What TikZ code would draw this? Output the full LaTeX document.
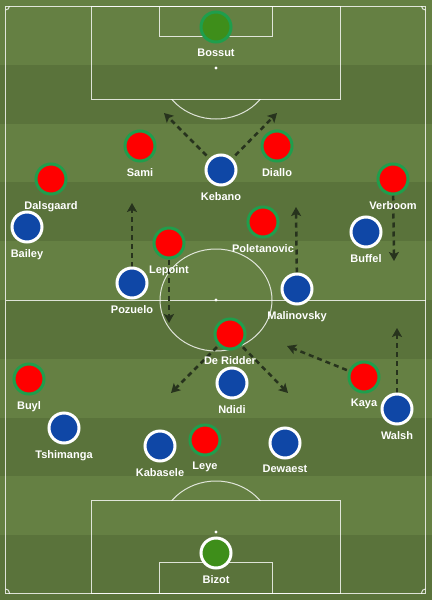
\documentclass[tikz,border=0pt]{standalone}
\usepackage{fontspec}
\setmainfont{Liberation Sans}
\usetikzlibrary{arrows.meta}
\definecolor{grasslight}{HTML}{658043}
\definecolor{grassdark}{HTML}{5A733B}
\definecolor{redkit}{HTML}{FF0000}
\definecolor{bluekit}{HTML}{0F47A6}
\definecolor{keeperkit}{HTML}{3E8E1A}
\definecolor{ring}{HTML}{1F9E4C}
\definecolor{runline}{HTML}{27331D}
\pgfdeclarelayer{pitch}
\pgfdeclarelayer{runs}
\pgfsetlayers{pitch,runs,main}

\begin{document}
\begin{tikzpicture}
[x=1pt,y=-1pt,%
  pitchline/.style={draw=white,draw opacity=0.8,line width=1pt},%
  player/.style={shape=circle,minimum size=30pt,inner sep=0pt,line width=3pt},%
  redp/.style={player,fill=redkit,draw=ring},%
  bluep/.style={player,fill=bluekit,draw=white},%
  lbl/.style={font=\fontsize{11}{13}\selectfont\bfseries,text=white,inner sep=0pt,yshift=-5.5pt},%
  run/.style={draw=runline,line width=2.5pt,dash pattern=on 5pt off 4pt,%
    -{Stealth[length=9pt,width=10pt,inset=2pt]}}]
\useasboundingbox (0,0) rectangle (432,600);
\begin{pgfonlayer}{pitch}
\fill[grassdark] (0,0) rectangle (432,600);
\fill[grasslight] (0,0) rectangle (432,6);
\foreach \i in {0,2,...,8}
  \fill[grasslight] (0,{6+58.8*\i}) rectangle (432,{64.8+58.8*\i});
\draw[pitchline] (5.5,6) rectangle (425.5,593);
\draw[pitchline] (5.5,300) -- (425.5,300);
\draw[pitchline] (216,300) ellipse [x radius=56,y radius=51];
\draw[pitchline] (91.7,6) rectangle (340.7,99);
\draw[pitchline] (159.3,6) rectangle (272.7,36.7);
\draw[pitchline] (91.7,593) rectangle (340.7,500);
\draw[pitchline] (159.3,593) rectangle (272.7,562.3);
\foreach \y in {68,300,532}
  \fill[white] (216,\y) circle (1.6);
\begin{scope}
  \clip (0,99) rectangle (432,200);
  \draw[pitchline] (216,68) ellipse [x radius=56,y radius=51];
\end{scope}
\begin{scope}
  \clip (0,400) rectangle (432,500);
  \draw[pitchline] (216,532) ellipse [x radius=56,y radius=51];
\end{scope}
\begin{scope}
  \clip (5.5,6) rectangle (425.5,593);
  \foreach \cx/\cy in {5.5/6,425.5/6,5.5/593,425.5/593}
    \draw[pitchline] (\cx,\cy) circle (4);
\end{scope}
\end{pgfonlayer}

\node[player,fill=keeperkit,draw=ring,label={[lbl]below:Bossut}] (bossut) at (216,27) {};
\node[redp,label={[lbl]below:Sami}] (sami) at (140,146) {};
\node[redp,label={[lbl]below:Diallo}] (diallo) at (277,146) {};
\node[redp,label={[lbl]below:Dalsgaard}] (dalsgaard) at (51,179) {};
\node[redp,label={[lbl]below:Verboom}] (verboom) at (393,179) {};
\node[redp,label={[lbl]below:Poletanovic}] (poletanovic) at (263,222) {};
\node[redp,label={[lbl]below:Lepoint}] (lepoint) at (169,243) {};
\node[redp,label={[lbl]below:De Ridder}] (deridder) at (230,334) {};
\node[redp,label={[lbl]below:Buyl}] (buyl) at (29,379) {};
\node[redp,label={[lbl]below:Kaya}] (kaya) at (364,377) {};
\node[redp,label={[lbl]below:Leye}] (leye) at (205,440) {};

\node[bluep,label={[lbl]below:Kebano}] (kebano) at (221,170) {};
\node[bluep,label={[lbl]below:Bailey}] (bailey) at (27,227) {};
\node[bluep,label={[lbl]below:Buffel}] (buffel) at (366,232) {};
\node[bluep,label={[lbl]below:Pozuelo}] (pozuelo) at (132,283) {};
\node[bluep,label={[lbl]below:Malinovsky}] (malinovsky) at (297,289) {};
\node[bluep,label={[lbl]below:Ndidi}] (ndidi) at (232,383) {};
\node[bluep,label={[lbl]below:Walsh}] (walsh) at (397,409) {};
\node[bluep,label={[lbl]below:Tshimanga}] (tshimanga) at (64,428) {};
\node[bluep,label={[lbl]below:Kabasele}] (kabasele) at (160,446) {};
\node[bluep,label={[lbl]below:Dewaest}] (dewaest) at (285,443) {};
\node[player,fill=keeperkit,draw=white,label={[lbl]below:Bizot}] (bizot) at (216,553) {};

\coordinate (kebano-runl) at (164,113);
\coordinate (kebano-runr) at (277,113);
\coordinate (pozuelo-run) at (132,203);
\coordinate (malinovsky-run) at (296,207);
\coordinate (verboom-run) at (394,261);
\coordinate (lepoint-run) at (169,323);
\coordinate (deridder-runl) at (171,393);
\coordinate (deridder-runr) at (288,393);
\coordinate (kaya-run) at (287,346);
\coordinate (walsh-run) at (397,328);

\begin{pgfonlayer}{runs}
\draw[run,shorten <=4pt] (kebano) -- (kebano-runl);
\draw[run,shorten <=4pt] (kebano) -- (kebano-runr);
\draw[run] (pozuelo) -- (pozuelo-run);
\draw[run] (malinovsky) -- (malinovsky-run);
\draw[run] (verboom) -- (verboom-run);
\draw[run] (lepoint) -- (lepoint-run);
\draw[run,shorten <=2pt] (deridder) -- (deridder-runl);
\draw[run,shorten <=2pt] (deridder) -- (deridder-runr);
\draw[run,shorten <=2pt] (kaya) -- (kaya-run);
\draw[run] (walsh) -- (walsh-run);
\end{pgfonlayer}
\end{tikzpicture}
\end{document}
